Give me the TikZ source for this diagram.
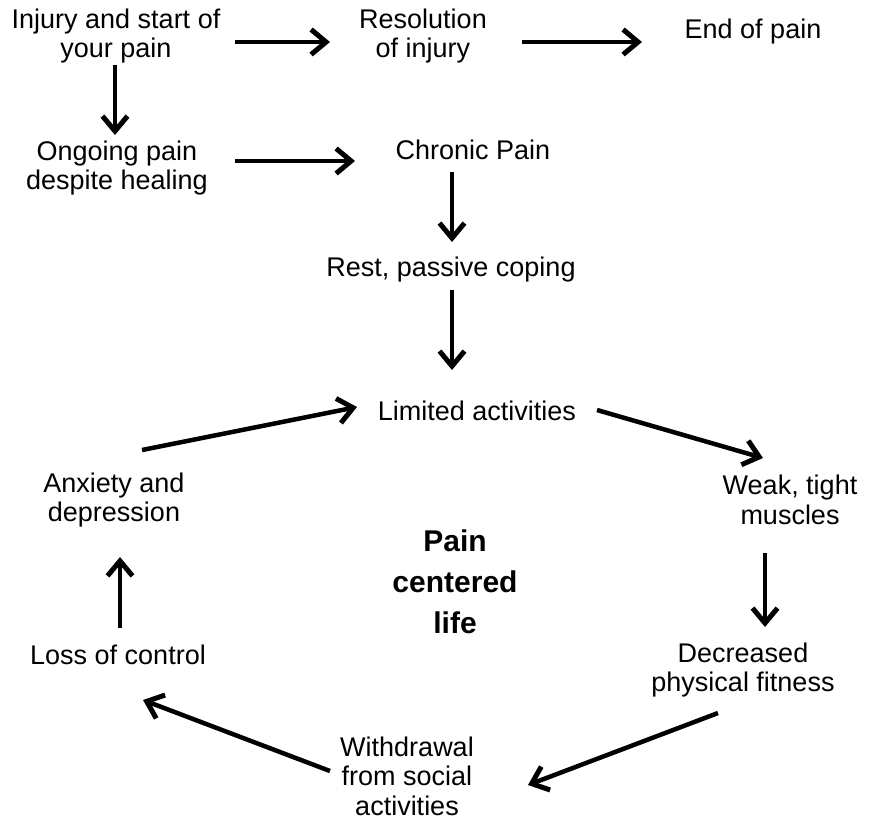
\documentclass[tikz,border=0pt]{standalone}
\usepackage{fontspec}
\setmainfont{Liberation Sans}
\usetikzlibrary{arrows.meta,calc}
\tikzset{
  lbl/.style={align=center,inner sep=0pt,font=\fontsize{27}{29.5}\selectfont},
  big/.style={align=center,inner sep=0pt,font=\fontsize{30}{41}\selectfont\bfseries},
  arr/.style={line width=4.5pt,-{Straight Barb[length=15pt,width=25pt,line width=5pt]}}
}
\begin{document}
\begin{tikzpicture}[x=1pt,y=-1pt]
\useasboundingbox (0,0) rectangle (869,822);
\node[lbl] (inj) at (116,36) {Injury and start of\\your pain};
\node[lbl] (res) at (423,36) {Resolution\\of injury};
\node[lbl] (endp) at (753,32) {End of pain};
\node[lbl] (ong) at (117,168) {Ongoing pain\\despite healing};
\node[lbl] (chr) at (473,150) {Chronic Pain};
\node[lbl] (rest) at (451,270) {Rest, passive coping};
\node[lbl] (lim) at (477,411) {Limited activities};
\node[lbl] (weak) at (790,500) {Weak, tight\\muscles};
\node[lbl] (decr) at (743,670) {Decreased\\physical fitness};
\node[lbl] (with) at (407,776) {Withdrawal\\from social\\activities};
\node[lbl] (loss) at (118,655) {Loss of control};
\node[lbl] (anx) at (114,500) {Anxiety and\\depression};
\node[big] (pcl) at (455,582) {Pain\\centered\\life};

\draw[arr] ($(inj.center)+(119,6)$) -- ($(res.center)+(-93,6)$);
\draw[arr] ($(res.center)+(99,6)$) -- ($(endp.center)+(-111,10)$);
\draw[arr] ($(inj.center)+(-1,29)$) -- ($(ong.center)+(-2,-33)$);
\draw[arr] ($(ong.center)+(118,-7)$) -- ($(chr.center)+(-118,11)$);
\draw[arr] ($(chr.center)+(-21,22)$) -- ($(rest.center)+(1,-28)$);
\draw[arr] ($(rest.center)+(1,20)$) -- ($(lim.center)+(-25,-41)$);
\draw[arr] ($(lim.center)+(120,-1)$) -- ($(weak.center)+(-27,-42)$);
\draw[arr] ($(weak.center)+(-25,53)$) -- ($(decr.center)+(22,-43)$);
\draw[arr] ($(decr.center)+(-25,43)$) -- ($(with.center)+(121,9)$);
\draw[arr] ($(with.center)+(-77,-5)$) -- ($(loss.center)+(25,45)$);
\draw[arr] ($(loss.center)+(2,-27)$) -- ($(anx.center)+(6,57)$);
\draw[arr] ($(anx.center)+(28,-50)$) -- ($(lim.center)+(-120,-4)$);
\end{tikzpicture}
\end{document}
